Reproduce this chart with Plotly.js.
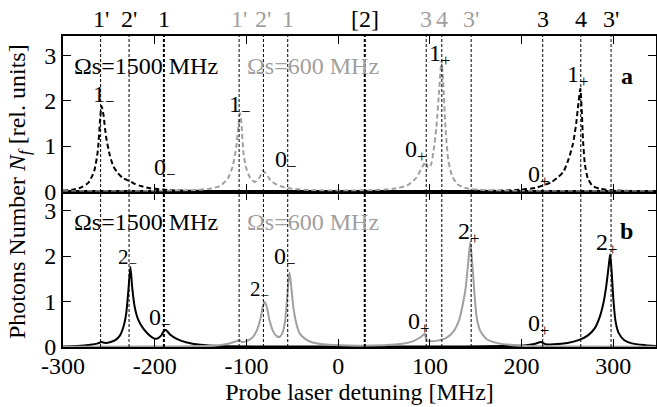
<!DOCTYPE html>
<html>
<head>
<meta charset="utf-8">
<script src="https://cdn.plot.ly/plotly-3.0.1.min.js"></script>
<style>html,body{margin:0;padding:0;background:#fff;font-family:'Liberation Serif','DejaVu Serif',serif;}#chart{width:657px;height:407px;}</style>
</head>
<body>
<div id="chart"></div>
<script>
// ---- data ----
// Panel a (dashed), Omega_s = 1500 MHz (black)
const aBlackX = [-300,-290,-280,-272,-266,-262,-259.5,-258,-256,-253,-249,-245,-240,-235,-230,-227,-222,-215,-205,-195,-185,-170,-140,-50,100,180,200,215,223,232,240,246,251,256,259.5,262,264,265.5,267,269,272,277,285,297,320,347];
const aBlackY = [0.02,0.04,0.09,0.2,0.45,0.9,1.6,1.88,1.7,1.2,0.8,0.55,0.4,0.3,0.25,0.23,0.17,0.12,0.07,0.05,0.03,0.02,0.01,0.005,0.01,0.02,0.04,0.08,0.13,0.2,0.32,0.45,0.7,1.05,1.5,1.95,2.26,1.8,1.1,0.6,0.3,0.13,0.06,0.03,0.01,0.005];
// Panel a (dashed), Omega_s = 600 MHz (gray)
const aGrayX = [-300,-200,-160,-140,-128,-120,-115,-111,-108.5,-107,-105.5,-103,-100,-96,-91,-86,-82,-79,-74,-68,-60,-50,-30,0,40,60,75,85,92,95.5,98,101,104,107,110,112.7,114.5,117,120,124,130,140,160,200,347];
const aGrayY = [0.005,0.01,0.03,0.06,0.13,0.3,0.55,1.0,1.5,1.72,1.5,0.8,0.5,0.3,0.21,0.3,0.45,0.4,0.25,0.16,0.1,0.06,0.03,0.02,0.03,0.06,0.13,0.3,0.55,0.65,0.52,0.58,0.9,1.4,2.2,2.88,2.4,1.4,0.7,0.35,0.16,0.07,0.03,0.01,0.005];
// Panel b (solid), Omega_s = 1500 MHz (black)
const bBlackX = [-300,-285,-270,-262,-258,-254,-248,-243,-238,-234,-231,-228.5,-226.5,-224.5,-222,-218,-213,-207,-202,-198,-193,-189,-187,-183,-176,-165,-150,-130,-80,100,180,205,215,221,226,235,250,262,272,280,285,289,292,294.5,296.5,298,300,302.5,306,312,320,335,347];
const bBlackY = [0.01,0.02,0.05,0.08,0.11,0.09,0.11,0.15,0.25,0.45,0.75,1.3,1.76,1.3,0.9,0.6,0.42,0.28,0.2,0.18,0.25,0.38,0.36,0.27,0.18,0.1,0.05,0.02,0.01,0.01,0.02,0.04,0.07,0.11,0.06,0.06,0.09,0.15,0.25,0.42,0.65,0.95,1.3,1.7,2.04,1.7,1.05,0.55,0.3,0.15,0.08,0.04,0.02];
// Panel b (solid), Omega_s = 600 MHz (gray)
const bGrayX = [-300,-200,-150,-130,-120,-112,-108,-105,-100,-94,-89,-85,-82,-80,-78,-75,-71,-67,-64,-61,-58,-56,-54,-53,-51.5,-49,-46,-42,-36,-28,-10,20,50,70,82,90,94.5,96.5,100,108,118,126,132,136,139,141.5,144,146,148.5,151,155,162,175,200,250,347];
const bGrayY = [0.005,0.01,0.02,0.04,0.07,0.12,0.15,0.11,0.13,0.2,0.35,0.6,0.9,0.99,0.9,0.6,0.35,0.24,0.22,0.3,0.55,1.0,1.5,1.64,1.4,0.9,0.55,0.3,0.18,0.1,0.05,0.03,0.04,0.07,0.13,0.22,0.29,0.15,0.13,0.14,0.2,0.35,0.6,0.95,1.3,1.8,2.31,1.9,1.2,0.65,0.35,0.17,0.08,0.03,0.01,0.005];

// level markers (top labels and vertical dashed lines)
const levelX = [-259,-228,-190,-108,-81.5,-55,29,96,113,145,223,264.5,297.5];
const levelLabels = ["1'","2'","1","1'","2'","1","[2]","3","4","3'","3","4","3'"];
const levelSet = ["1500","1500","1500","600","600","600","1500","600","600","600","1500","1500","1500"];

// peak labels
const peakTextA = ["1<sub>−</sub>","0<sub>−</sub>","1<sub>−</sub>","0<sub>−</sub>","0<sub>+</sub>","1<sub>+</sub>","0<sub>+</sub>","1<sub>+</sub>"];
const peakTextB = ["2<sub>−</sub>","0<sub>−</sub>","2<sub>−</sub>","0<sub>−</sub>","0<sub>+</sub>","2<sub>+</sub>","0<sub>+</sub>","2<sub>+</sub>"];

const setNames = ["Ωs=1500 MHz","Ωs=600 MHz"];
const xTicks = [-300,-200,-100,0,100,200,300];
const yTicks = [0,1,2,3];

// ---- styles ----
const BLACK = '#000000';
const GRAY = '#a0a0a0';
const FONT = 'Times New Roman, Liberation Serif, DejaVu Serif, serif';

const traces = [
  {x:aBlackX,y:aBlackY,xaxis:'x2',yaxis:'y2',mode:'lines',line:{color:BLACK,width:2,dash:'5px,3px',shape:'spline',smoothing:0.6},hoverinfo:'skip'},
  {x:aGrayX,y:aGrayY,xaxis:'x2',yaxis:'y2',mode:'lines',line:{color:GRAY,width:2,dash:'5px,3px',shape:'spline',smoothing:0.6},hoverinfo:'skip'},
  {x:bBlackX,y:bBlackY,xaxis:'x',yaxis:'y',mode:'lines',line:{color:BLACK,width:2,shape:'spline',smoothing:0.6},hoverinfo:'skip'},
  {x:bGrayX,y:bGrayY,xaxis:'x',yaxis:'y',mode:'lines',line:{color:GRAY,width:2,shape:'spline',smoothing:0.6},hoverinfo:'skip'}
];

const shapes = levelX.map((lx,i)=>({
  type:'line', xref:'x', yref:'paper', x0:lx, x1:lx, y0:0, y1:1,
  line:{color:BLACK, width:(levelLabels[i]==='[2]'||(levelLabels[i]==='1'&&levelSet[i]==='1500'))?2:1, dash:'3px,2px'},
  layer:'above'
}));

const annotations = [];
levelX.forEach((lx,i)=>{
  annotations.push({x:lx, y:1, xref:'x', yref:'paper', yanchor:'bottom', yshift:2, showarrow:false,
    text:levelLabels[i], font:{family:FONT,size:24,color: levelSet[i]==='1500'?BLACK:GRAY}});
});
// panel a peak labels (x, y in data units of panel a)
const aPos = [[-256,2.1],[-189,0.5],[-108,1.88],[-57,0.68],[84,0.9],[110,3.0],[218,0.35],[261,2.55]];
aPos.forEach((p,i)=>annotations.push({x:p[0],y:p[1],xref:'x2',yref:'y2',showarrow:false,text:peakTextA[i],font:{family:FONT,size:24,color:BLACK}}));
const bPos = [[-230,1.95],[-195,0.62],[-86,1.25],[-58,1.95],[88,0.52],[142,2.5],[218,0.48],[293,2.27]];
bPos.forEach((p,i)=>annotations.push({x:p[0],y:p[1],xref:'x',yref:'y',showarrow:false,text:peakTextB[i],font:{family:FONT,size:(i===0||i===2)?21:24,color:BLACK}}));

// set names
[['x2','y2'],['x','y']].forEach(ax=>{
  annotations.push({x:-290,y:2.75,xref:ax[0],yref:ax[1],xanchor:'left',showarrow:false,text:setNames[0],font:{family:FONT,size:24,color:BLACK}});
  annotations.push({x:-102,y:2.75,xref:ax[0],yref:ax[1],xanchor:'left',showarrow:false,text:setNames[1],font:{family:FONT,size:24,color:GRAY}});
});
// panel letters
annotations.push({x:0.965,y:2.55,xref:'paper',yref:'y2',showarrow:false,text:'<b>a</b>',font:{family:FONT,size:24,color:BLACK}});
annotations.push({x:0.965,y:2.55,xref:'paper',yref:'y',showarrow:false,text:'<b>b</b>',font:{family:FONT,size:24,color:BLACK}});
// y title
annotations.push({x:-0.075,y:0.5,xref:'paper',yref:'paper',xanchor:'center',yanchor:'middle',textangle:-90,showarrow:false,
  text:'Photons Number <i>N</i><sub><i>f</i></sub> [rel. units]',font:{family:FONT,size:24,color:BLACK}});

const axBase = {
  showline:true, linecolor:BLACK, linewidth:2, mirror:'ticks', ticks:'inside', ticklen:8, tickwidth:1, tickcolor:BLACK,
  showgrid:false, zeroline:false, tickfont:{family:FONT,size:24,color:BLACK}
};

const layout = {
  width:657, height:407,
  margin:{l:63, r:1, t:36, b:60},
  paper_bgcolor:'#fff', plot_bgcolor:'#fff',
  showlegend:false,
  xaxis: Object.assign({}, axBase, {range:[-300,346.5], tickvals:xTicks, ticktext:xTicks.map(String), anchor:'y', ticklabelstandoff:-4,
    title:{text:'Probe laser detuning [MHz]', font:{family:FONT,size:24,color:BLACK}, standoff:2}}),
  xaxis2: Object.assign({}, axBase, {range:[-300,346.5], tickvals:xTicks, showticklabels:false, anchor:'y2', matches:'x'}),
  yaxis: Object.assign({}, axBase, {range:[0,3.42], domain:[0,0.5], tickvals:yTicks, anchor:'x', ticklen:8}),
  yaxis2: Object.assign({}, axBase, {range:[0,3.42], domain:[0.5,1], tickvals:yTicks, anchor:'x2', ticklen:8}),
  shapes: shapes,
  annotations: annotations,
  font:{family:FONT, color:BLACK}
};

Plotly.newPlot('chart', traces, layout, {displayModeBar:false, staticPlot:true});
</script>
</body>
</html>
